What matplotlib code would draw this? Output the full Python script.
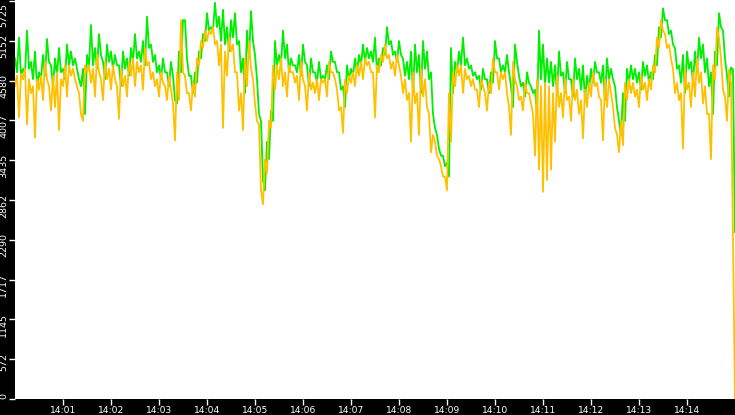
import matplotlib
matplotlib.use("Agg")
import matplotlib.pyplot as plt
import matplotlib.transforms as mtransforms
import numpy as np

# one sample every 5 seconds from 14:00:00 to 14:15:00
step_s = 5

# per-sample peak, level and trough (green trace above level, orange below)
hi_vals = [
    4900, 5200, 4750, 5300, 4850,
    5000, 4700, 4950, 5180, 4800,
    4900, 5050, 4750, 5100, 5000,
    4900, 4600, 4750, 4950, 5380,
    5050, 5250, 4850, 5100, 5000,
    4950, 4800, 5000, 4900, 5050,
    5250, 5000, 5150, 5500, 5100,
    4950, 4800, 4900, 4700, 4850,
    4300, 5000, 5450, 4900, 4650,
    4700, 5000, 5250, 5550, 5350,
    5700, 5500, 5600, 5350, 5450,
    5550, 5150, 4900, 5300, 5580,
    4950, 4100, 3150, 3700, 4150,
    5150, 4950, 5300, 5100, 4900,
    4800, 4950, 5100, 4800, 4900,
    4700, 4850, 4650, 4800, 5000,
    4850, 4700, 4500, 4800, 4750,
    4900, 4950, 5100, 5050, 5000,
    5200, 4900, 5050, 5350, 5150,
    5000, 5150, 4900, 4850, 5000,
    5100, 4950, 5150, 5000, 4700,
    3900, 3600, 3500, 3400, 5050,
    4850, 5000, 5200, 4900, 4800,
    4700, 4650, 4750, 4600, 4700,
    5150, 4900, 4800, 4950, 4500,
    5100, 4650, 4550, 4700, 4500,
    4450, 5300, 5100, 4900, 4850,
    4800, 5000, 4700, 4850, 4600,
    4900, 4750, 4800, 4650, 4750,
    4850, 4700, 4800, 4900, 4750,
    4500, 4000, 4400, 4750, 4800,
    4750, 4700, 4850, 4800, 4700,
    4950, 5350, 5620, 5450, 5300,
    5050, 4800, 4950, 5000, 4850,
    5000, 5200, 5100, 4900, 4700,
    5000, 5550, 5300, 4650, 4770,
    2400,
]

mid_vals = [
    4700, 4650, 4680, 4750, 4600,
    4500, 4600, 4650, 4850, 4500,
    4650, 4700, 4600, 4800, 4800,
    4750, 4500, 4100, 4800, 4800,
    4750, 4950, 4600, 4850, 4750,
    4800, 4500, 4750, 4650, 4850,
    4900, 4850, 4800, 5050, 4850,
    4700, 4600, 4700, 4500, 4650,
    4250, 4700, 5450, 4650, 4400,
    4550, 4900, 5150, 5300, 5300,
    5350, 5150, 5100, 5000, 5200,
    5100, 4700, 4400, 4900, 5150,
    4600, 4000, 3000, 3450, 4000,
    4800, 4800, 4900, 4700, 4800,
    4700, 4650, 4850, 4500, 4700,
    4550, 4600, 4600, 4600, 4850,
    4700, 4450, 4200, 4600, 4650,
    4700, 4800, 4850, 4900, 4850,
    4700, 4800, 4950, 5100, 4950,
    4850, 4950, 4650, 4600, 4400,
    4700, 4400, 4750, 4600, 4100,
    3800, 3500, 3350, 3200, 4400,
    4700, 4800, 4800, 4750, 4650,
    4600, 4450, 4600, 4400, 4550,
    4900, 4700, 4700, 4700, 4200,
    4850, 4500, 4350, 4550, 4400,
    4100, 4600, 4500, 4550, 4500,
    4400, 4650, 4400, 4600, 4350,
    4600, 4450, 4300, 4450, 4550,
    4700, 4550, 4300, 4600, 4600,
    4200, 3800, 4000, 4550, 4600,
    4550, 4450, 4650, 4550, 4600,
    4800, 5200, 5450, 5250, 5100,
    4750, 4550, 4400, 4750, 4550,
    4700, 4900, 4700, 4500, 4100,
    4800, 5350, 4900, 4350, 4740,
    2300,
]

lo_vals = [
    4500, 4050, 4600, 3950, 4400,
    3760, 4450, 4300, 4600, 4150,
    4200, 3870, 4500, 4350, 4650,
    4600, 4400, 4000, 4700, 4550,
    4350, 4700, 4300, 4600, 4450,
    4600, 4030, 4500, 4350, 4650,
    4500, 4700, 4450, 4800, 4600,
    4500, 4350, 4550, 4300, 4450,
    3720, 4300, 4700, 4400, 4150,
    4350, 4800, 5050, 5150, 5250,
    5100, 4800, 3900, 4650, 5000,
    4700, 4150, 3870, 4500, 4750,
    4250, 3950, 2800, 3250, 3900,
    4450, 4600, 4500, 4350, 4700,
    4550, 4300, 4600, 4150, 4450,
    4400, 4300, 4550, 4350, 4700,
    4600, 4150, 3830, 4400, 4550,
    4500, 4650, 4600, 4800, 4700,
    4050, 4700, 4850, 4900, 4750,
    4650, 4800, 4400, 4300, 3700,
    4250, 3800, 4350, 4200, 3550,
    3700, 3450, 3200, 3000, 3700,
    4500, 4650, 4400, 4600, 4500,
    4450, 4200, 4500, 4150, 4400,
    4700, 4450, 4600, 4400, 3800,
    4600, 4300, 4150, 4400, 4250,
    3500, 3300, 2980, 3150, 3300,
    3700, 4200, 4050, 4300, 4000,
    4300, 4100, 3750, 4200, 4350,
    4500, 4350, 3720, 4200, 4400,
    3900, 3550, 3650, 4300, 4400,
    4350, 4200, 4450, 4300, 4450,
    4700, 5050, 5300, 5050, 4900,
    4400, 4300, 3600, 4450, 4200,
    4350, 4550, 4250, 4100, 3450,
    4600, 5200, 4450, 4000, 4550,
    0,
]

y_ticks = [0, 572.5, 1145, 1717.5, 2290, 2862.5, 3435, 4007.5, 4580, 5152.5, 5725]
y_labels = ['0', '572', '1145', '1717', '2290', '2862', '3435', '4007', '4580', '5152', '5725']
x_ticks = [60 * m for m in range(1, 15)]
x_labels = ['14:%02d' % m for m in range(1, 15)]

t = np.arange(len(hi_vals)) * step_s
half = step_s / 2

fig = plt.figure(figsize=(7.35, 4.15), dpi=100, facecolor='black')
ax = fig.add_axes([15 / 735, 16 / 415, 720 / 735, 399 / 415])
ax.set_facecolor('white')

# green: peak at the sample time, back to the level half a step later
gx = np.column_stack([t, t + half]).ravel()[:-1]
gy = np.column_stack([hi_vals, mid_vals]).ravel()[:-1]
# orange: level half a step before, trough at the sample time
ox = np.column_stack([t - half, t]).ravel()
oy = np.column_stack([mid_vals, lo_vals]).ravel()
ax.plot(gx, gy, color='#00ee00', lw=1.3)
ax.plot(ox, oy, color='#ffc000', lw=1.3)

ax.set_xlim(0, 900)
ax.set_ylim(0, 5740)
for s in ax.spines.values():
    s.set_visible(False)

ax.set_yticks(y_ticks)
ax.set_yticklabels(y_labels, rotation=90, va='top', color='white', fontsize=6.8)
ax.set_xticks(x_ticks)
ax.set_xticklabels(x_labels, color='white', fontsize=6.6)
ax.tick_params(axis='both', colors='white', length=4, width=1, pad=1)

labs = ax.get_yticklabels()
for lab in labs[:-1]:
    lab.set_transform(lab.get_transform() + mtransforms.ScaledTranslation(0, 6.5 / 100, fig.dpi_scale_trans))
# top label is kept inside the figure
labs[-1].set_transform(labs[-1].get_transform() + mtransforms.ScaledTranslation(0, -2 / 100, fig.dpi_scale_trans))

fig.savefig('out.png', dpi=100, facecolor='black')
